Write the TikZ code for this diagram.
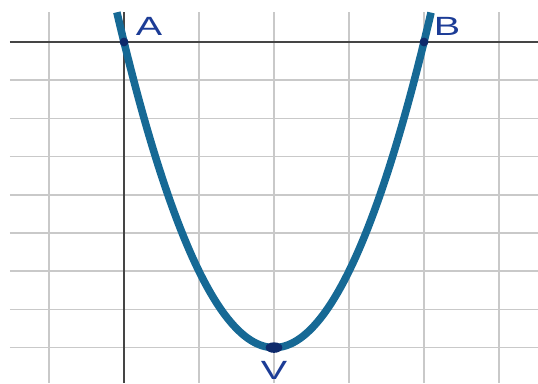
\documentclass[tikz,border=0pt]{standalone}
\usepackage{fontspec}
\setmainfont{Liberation Sans}
\usepackage{tikz}
\usetikzlibrary{shapes.geometric}
\definecolor{grid_gray}{HTML}{C9C9C9}
\definecolor{axis_gray}{HTML}{454545}
\definecolor{curve_blue}{HTML}{166995}
\definecolor{point_navy}{HTML}{0E2A6B}
\definecolor{label_blue}{HTML}{1C3C96}

\begin{document}
\begin{tikzpicture}[
    x=1.5cm, y=0.764cm,
    gridline/.style={grid_gray, line width=1pt},
    axisline/.style={axis_gray, line width=1.1pt},
    dot/.style={circle, fill=point_navy, inner sep=0pt, minimum size=5pt},
    vdot/.style={ellipse, fill=point_navy, inner sep=0pt, minimum width=9.5pt, minimum height=6pt},
    lbl/.style={font=\fontsize{15}{15}\selectfont, text=label_blue, inner sep=0pt}
]
\useasboundingbox (-1.6533,-8.927) rectangle (5.52,1.0995);

% Gitter
\foreach \gy in {-1,...,-8}
    \draw[gridline] (-1.52,\gy) -- (5.52,\gy);
\foreach \gx in {-1,1,2,3,4,5}
    \draw[gridline] (\gx,0.785) -- (\gx,-8.927);

% Achsen
\draw[axisline] (-1.52,0) -- (5.52,0);
\draw[axisline] (0,0.785) -- (0,-8.927);

% Parabel y = 2x^2 - 8x
\draw[curve_blue, line width=4.3pt]
    plot[domain=-0.095:4.095, samples=120, smooth] (\x, {2*\x*\x - 8*\x});

% Punkte
\node[dot] (pA) at (0,0) {};
\node[dot] (pB) at (4,0) {};
\node[vdot] (pV) at (2,-8) {};

% Beschriftungen
\node[lbl] (lA) at (0.333,0.40) {\scalebox{1.5}[1]{A}};
\node[lbl] (lB) at (4.307,0.40) {\scalebox{1.5}[1]{B}};
\node[lbl] (lV) at (2,-8.60) {\scalebox{1.5}[1]{V}};

\end{tikzpicture}
\end{document}
